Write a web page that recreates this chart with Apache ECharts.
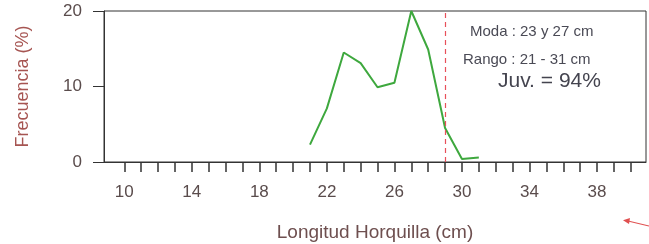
<!DOCTYPE html>
<html>
<head>
<meta charset="utf-8">
<script src="https://cdn.jsdelivr.net/npm/echarts@6/dist/echarts.min.js"></script>
<style>
    html, body {margin: 0; padding: 0; background: #fff;}
    #chart {width: 649px; height: 244px;}
</style>
</head>
<body>
<div id="chart"></div>
<script>
// datos
let longitud = [21, 22, 23, 24, 25, 26, 27, 28, 29, 30, 31];
let frecuencia = [2.3, 7.1, 14.5, 13.1, 9.9, 10.5, 20, 14.9, 4.5, 0.4, 0.6];
let xTicks = [10, 11, 12, 13, 14, 15, 16, 17, 18, 19, 20, 21, 22, 23, 24, 25, 26, 27, 28, 29, 30, 31, 32, 33, 34, 35, 36, 37, 38, 39, 40];
let xLabels = [10, 14, 18, 22, 26, 30, 34, 38];
let tallaMinima = 29;
let notas = ['Moda : 23 y 27 cm', 'Rango : 21 - 31 cm', 'Juv. = 94%'];

function createFreqChart(selector) {
    let myChart = echarts.init(document.getElementById(selector));
    let puntos = [];
    for (let i = 0; i < longitud.length; i++) {
        puntos.push([longitud[i], frecuencia[i]]);
    }
    let txt = {fontFamily: 'Liberation Sans, Arial, sans-serif'};
    myChart.setOption({
        animation: false,
        grid: {
            left: 104, right: 3, top: 11, bottom: 82,
            outerBoundsMode: 'none',
            containLabel: false,
            show: true, borderColor: '#333', borderWidth: 1
        },
        xAxis: {
            type: 'value',
            min: 8.8,
            max: 40.9,
            name: 'Longitud Horquilla (cm)',
            nameLocation: 'middle',
            nameGap: 61,
            nameTextStyle: Object.assign({fontSize: 19, color: '#6e4f4f'}, txt),
            splitLine: {show: false},
            axisLine: {lineStyle: {color: '#333', width: 1}},
            axisTick: {
                customValues: xTicks,
                length: 10,
                lineStyle: {color: '#333', width: 1.5}
            },
            axisLabel: Object.assign({
                customValues: xLabels,
                fontSize: 17,
                margin: 22,
                color: '#5a4c4c'
            }, txt)
        },
        yAxis: {
            type: 'value',
            min: 0,
            max: 20,
            interval: 10,
            name: 'Frecuencia (%)',
            nameLocation: 'middle',
            nameGap: 72,
            nameTextStyle: Object.assign({fontSize: 18, color: '#a65552'}, txt),
            splitLine: {show: false},
            axisLine: {lineStyle: {color: '#333', width: 1}},
            axisTick: {length: 11, lineStyle: {color: '#333', width: 1}},
            axisLabel: Object.assign({fontSize: 17, margin: 22, color: '#5a4c4c'}, txt)
        },
        series: [{
            name: 'frecuencia',
            type: 'line',
            data: puntos,
            showSymbol: false,
            lineStyle: {color: '#3ea83e', width: 2},
            markLine: {
                silent: true,
                symbol: 'none',
                label: {show: false},
                emphasis: {disabled: true},
                lineStyle: {color: '#e8505a', type: [5, 4], width: 1.2, opacity: 1},
                data: [{xAxis: tallaMinima}]
            }
        }],
        graphic: [
            {type: 'text', left: 470, top: 24, style: Object.assign({text: notas[0], fontSize: 15, fill: '#4a4a55'}, txt)},
            {type: 'text', left: 463, top: 52, style: Object.assign({text: notas[1], fontSize: 15, fill: '#4a4a55'}, txt)},
            {type: 'text', left: 498, top: 71, style: Object.assign({text: notas[2], fontSize: 21, fill: '#44444f'}, txt)},
            // flecha roja de la esquina
            {type: 'line', shape: {x1: 649, y1: 226, x2: 628, y2: 221}, style: {stroke: '#e05050', lineWidth: 1.2}},
            {type: 'polygon', shape: {points: [[623, 220.3], [630, 218], [629, 224]]}, style: {fill: '#e05050'}}
        ]
    });
}

createFreqChart('chart');
</script>
</body>
</html>
